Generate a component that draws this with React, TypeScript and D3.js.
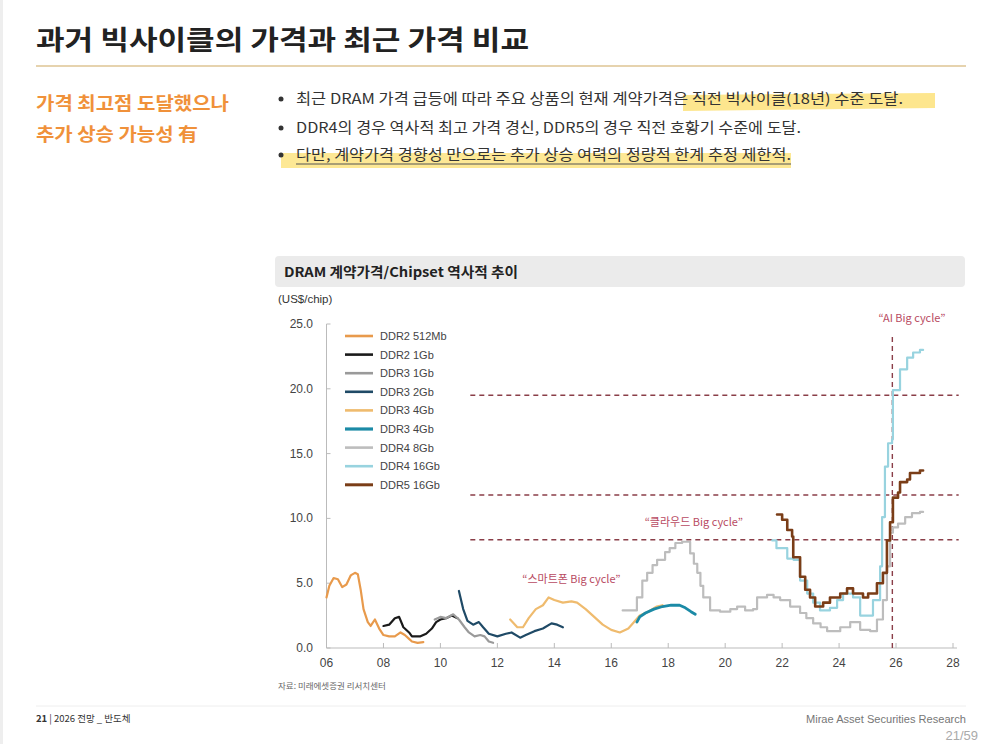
import React from "react";
import * as d3 from "d3";

// ---------- DATA ----------
const yTicks = [0, 5, 10, 15, 20, 25];
const xTicks = [2006, 2008, 2010, 2012, 2014, 2016, 2018, 2020, 2022, 2024, 2026, 2028];
const xTickLabels = ["06", "08", "10", "12", "14", "16", "18", "20", "22", "24", "26", "28"];

const ddr2_512: [number, number][] = [
  [2006.0, 3.9], [2006.1, 4.8], [2006.25, 5.4], [2006.4, 5.3], [2006.55, 4.7], [2006.7, 4.9],
  [2006.85, 5.6], [2007.0, 5.8], [2007.1, 5.7], [2007.2, 4.5], [2007.3, 3.0], [2007.45, 2.0],
  [2007.55, 1.7], [2007.7, 2.2], [2007.85, 1.5], [2008.0, 1.0], [2008.2, 0.9], [2008.4, 0.9],
  [2008.6, 1.2], [2008.75, 1.0], [2008.9, 0.7], [2009.0, 0.5], [2009.2, 0.4], [2009.4, 0.45],
];
const ddr2_1g: [number, number][] = [
  [2008.0, 1.7], [2008.2, 1.8], [2008.4, 2.3], [2008.55, 2.4], [2008.7, 1.6], [2008.9, 1.2],
  [2009.0, 0.9], [2009.3, 0.9], [2009.5, 1.1], [2009.7, 1.5], [2009.85, 2.0], [2010.0, 2.2],
  [2010.2, 2.3], [2010.4, 2.5], [2010.6, 2.3],
];
const ddr3_1g: [number, number][] = [
  [2009.8, 2.2], [2010.0, 2.4], [2010.2, 2.3], [2010.45, 2.6], [2010.65, 2.2], [2010.85, 1.6],
  [2011.0, 1.2], [2011.2, 0.9], [2011.4, 1.0], [2011.55, 0.9], [2011.7, 0.5], [2011.85, 0.4],
];
const ddr3_2g: [number, number][] = [
  [2010.65, 4.4], [2010.8, 3.0], [2010.95, 2.1], [2011.15, 1.8], [2011.35, 2.0], [2011.5, 1.6],
  [2011.7, 1.1], [2012.0, 0.9], [2012.3, 1.1], [2012.5, 1.2], [2012.8, 0.8], [2013.0, 1.0],
  [2013.3, 1.3], [2013.6, 1.5], [2013.9, 1.9], [2014.1, 1.8], [2014.3, 1.6],
];
const ddr3_4g_a: [number, number][] = [
  [2012.45, 2.2], [2012.7, 1.6], [2012.9, 1.6], [2013.1, 2.3], [2013.35, 3.0], [2013.6, 3.3],
  [2013.8, 3.9], [2014.0, 3.7], [2014.3, 3.5], [2014.6, 3.6], [2014.8, 3.5], [2015.1, 3.0],
  [2015.4, 2.4], [2015.7, 1.8], [2016.0, 1.4], [2016.3, 1.2], [2016.6, 1.5], [2016.8, 2.0],
  [2017.0, 2.5], [2017.3, 2.8], [2017.6, 3.2], [2017.8, 3.3],
];
const ddr3_4g_b: [number, number][] = [
  [2016.9, 2.0], [2017.0, 2.4], [2017.2, 2.7], [2017.5, 3.0], [2017.8, 3.2], [2018.1, 3.3],
  [2018.4, 3.3], [2018.6, 3.1], [2018.8, 2.8], [2018.95, 2.6],
];
const ddr4_8g: [number, number][] = [
  [2016.4, 2.9], [2016.9, 3.9], [2017.09, 5.2], [2017.26, 5.8], [2017.45, 6.4], [2017.61, 6.8],
  [2017.89, 7.4], [2018.05, 7.7], [2018.25, 8.1], [2018.49, 8.2], [2018.77, 7.3], [2018.9, 6.5],
  [2019.02, 5.8], [2019.13, 4.8], [2019.23, 3.9], [2019.47, 2.9], [2019.82, 2.8], [2020.18, 3.0],
  [2020.42, 3.2], [2020.7, 2.9], [2020.98, 3.0], [2021.12, 3.9], [2021.47, 4.1], [2021.7, 3.9],
  [2021.93, 3.7], [2022.28, 3.2], [2022.63, 2.7], [2022.85, 2.3], [2023.09, 1.9], [2023.35, 1.6],
  [2023.58, 1.3], [2024.04, 1.6], [2024.39, 2.0], [2024.74, 1.4], [2025.09, 1.3], [2025.33, 2.2],
  [2025.54, 3.7], [2025.68, 6.3], [2025.79, 8.9], [2025.89, 9.3], [2026.07, 9.6], [2026.32, 10.1],
  [2026.56, 10.4], [2026.84, 10.5], [2026.95, 10.5],
];
const ddr4_16g: [number, number][] = [
  [2021.65, 8.3], [2021.8, 7.7], [2022.18, 6.9], [2022.4, 6.8], [2022.63, 5.2], [2022.88, 4.2],
  [2023.09, 3.5], [2023.33, 2.9], [2023.68, 3.1], [2023.93, 3.7], [2024.14, 4.2], [2024.49, 3.9],
  [2024.74, 2.5], [2025.19, 3.7], [2025.44, 6.3], [2025.51, 10.1], [2025.61, 14.0], [2025.72, 15.8],
  [2025.86, 16.1], [2025.89, 19.9], [2026.14, 21.5], [2026.39, 22.4], [2026.6, 22.8],
  [2026.84, 23.0], [2026.95, 23.0],
];
const ddr5_16g: [number, number][] = [
  [2021.82, 10.3], [2022.0, 9.9], [2022.18, 9.1], [2022.35, 8.6], [2022.39, 7.0], [2022.63, 5.5],
  [2022.81, 4.5], [2022.98, 3.9], [2023.16, 3.2], [2023.44, 3.5], [2023.68, 3.9], [2024.04, 4.2],
  [2024.28, 4.6], [2024.49, 4.2], [2024.84, 3.9], [2025.02, 4.2], [2025.33, 5.0], [2025.54, 5.8],
  [2025.68, 8.3], [2025.79, 9.7], [2025.89, 11.6], [2026.07, 12.0], [2026.14, 12.8],
  [2026.39, 13.0], [2026.49, 13.5], [2026.84, 13.7], [2026.95, 13.7],
];

const seriesNames = [
  "DDR2 512Mb", "DDR2 1Gb", "DDR3 1Gb", "DDR3 2Gb", "DDR3 4Gb", "DDR3 4Gb", "DDR4 8Gb", "DDR4 16Gb", "DDR5 16Gb",
];
const seriesData = [ddr2_512, ddr2_1g, ddr3_1g, ddr3_2g, ddr3_4g_a, ddr3_4g_b, ddr4_8g, ddr4_16g, ddr5_16g];
const seriesColors = ["#e89a4c", "#1a1a1a", "#9a9a9a", "#1f4a66", "#efbb6e", "#1b8aa6", "#bdbdbd", "#98d3df", "#7a3d17"];
const seriesStepped = [false, false, false, false, false, false, true, true, true];
const seriesWidths = [2.2, 2.2, 2.2, 2.2, 2.2, 2.8, 2.2, 2.2, 2.6];

const refLevels = [19.5, 11.8, 8.35];
const refStartYear = 2011.05;
const refEndYear = 2028.2;
const aiCycleYear = 2025.87;
const aiCycleTop = 24.0;

const annoTexts = ["“스마트폰 Big cycle”", "“클라우드 Big cycle”", "“AI Big cycle”"];
const annoX = [2014.6, 2018.9, 2026.56];
const annoY = [5.3, 9.75, 25.5];

const bullets = [
  "최근 DRAM 가격 급등에 따라 주요 상품의 현재 계약가격은 직전 빅사이클(18년) 수준 도달.",
  "DDR4의 경우 역사적 최고 가격 경신, DDR5의 경우 직전 호황기 수준에 도달.",
  "다만, 계약가격 경향성 만으로는 추가 상승 여력의 정량적 한계 추정 제한적.",
];
const bulletWidths = [607, 505, 495];

const KR = "'Noto Sans CJK KR', 'Noto Sans', sans-serif";
const NUM = "'Liberation Sans', Arial, sans-serif";

export default function App() {
  const x = d3.scaleLinear().domain([2006, 2028]).range([326.5, 953]);
  const y = d3.scaleLinear().domain([0, 25]).range([648, 324]);

  const lineLinear = d3.line<[number, number]>().x((d) => x(d[0])).y((d) => y(d[1])).curve(d3.curveLinear);
  const lineStep = d3.line<[number, number]>().x((d) => x(d[0])).y((d) => y(d[1])).curve(d3.curveStepAfter);

  const legendX = 345;
  const legendY0 = 336;
  const legendDy = 18.6;
  const bulletY = [104, 133, 160];

  return (
    <svg width={1000} height={744} style={{ position: "absolute", left: 0, top: 0, background: "#fff" }}>
      <rect x={0} y={0} width={1000} height={744} fill="#fff" />
      <rect x={0} y={0} width={3} height={744} fill="#eeeeee" />

      {/* Title */}
      <text x={36} y={50} fontFamily={KR} fontWeight={700} fontSize={27} fill="#222" textLength={493} lengthAdjust="spacingAndGlyphs">
        과거 빅사이클의 가격과 최근 가격 비교
      </text>
      <line x1={36} x2={966} y1={66} y2={66} stroke="#e6d3ae" strokeWidth={2} />

      {/* Left orange subtitle */}
      <text x={36} y={110} fontFamily={KR} fontWeight={700} fontSize={18} fill="#f0913a" textLength={193} lengthAdjust="spacingAndGlyphs">
        가격 최고점 도달했으나
      </text>
      <text x={36} y={141} fontFamily={KR} fontWeight={700} fontSize={18} fill="#f0913a" textLength={162} lengthAdjust="spacingAndGlyphs">
        추가 상승 가능성 有
      </text>

      {/* Highlights */}
      <path d="M683,95 L935,93 L935,108 L683,111 Z" fill="#fde27a" opacity={0.85} />
      <rect x={281} y={153} width={510} height={15} fill="#fde27a" opacity={0.8} />

      {/* Bullets */}
      {bullets.map((b, i) => (
        <g key={i}>
          <circle cx={281} cy={bulletY[i] - 5} r={2.5} fill="#333" />
          <text
            x={296}
            y={bulletY[i]}
            fontFamily={KR}
            fontSize={14.5}
            fill="#333"
            textLength={bulletWidths[i]}
            lengthAdjust="spacingAndGlyphs"
          >
            {b}
          </text>
        </g>
      ))}
      <line x1={296} x2={791} y1={164} y2={164} stroke="#555" strokeWidth={1} />

      {/* Chart header */}
      <rect x={275} y={256} width={690} height={31} rx={4} fill="#ebebeb" />
      <text x={284} y={277} fontFamily={KR} fontWeight={700} fontSize={13.5} fill="#222" textLength={234} lengthAdjust="spacingAndGlyphs">
        DRAM 계약가격/Chipset 역사적 추이
      </text>
      <text x={278} y={303} fontFamily={NUM} fontSize={11.5} fill="#333">
        (US$/chip)
      </text>

      {/* Axes */}
      <line x1={x(2006)} x2={x(2006)} y1={y(25)} y2={y(0)} stroke="#bbb" strokeWidth={1} />
      <line x1={x(2006)} x2={957} y1={y(0)} y2={y(0)} stroke="#bbb" strokeWidth={1} />
      {yTicks.map((t) => (
        <g key={t}>
          <line x1={x(2006)} x2={x(2006) + 4} y1={y(t)} y2={y(t)} stroke="#bbb" />
          <text x={313} y={y(t) + 4} textAnchor="end" fontFamily={NUM} fontSize={12} fill="#444">
            {t.toFixed(1)}
          </text>
        </g>
      ))}
      {xTicks.map((t, i) => (
        <g key={t}>
          <line x1={x(t)} x2={x(t)} y1={y(0)} y2={y(0) - 5} stroke="#bbb" />
          <text x={x(t)} y={667} textAnchor="middle" fontFamily={NUM} fontSize={12} fill="#444">
            {xTickLabels[i]}
          </text>
        </g>
      ))}

      {/* Reference dashed lines */}
      {refLevels.map((v) => (
        <line key={v} x1={x(refStartYear)} x2={x(refEndYear)} y1={y(v)} y2={y(v)} stroke="#8a3e48" strokeWidth={1.4} strokeDasharray="5,4" />
      ))}
      <line x1={x(aiCycleYear)} x2={x(aiCycleYear)} y1={y(aiCycleTop)} y2={y(0)} stroke="#8a3e48" strokeWidth={1.4} strokeDasharray="5,4" />

      {/* Series */}
      {seriesData.map((d, i) => (
        <path
          key={i}
          d={(seriesStepped[i] ? lineStep : lineLinear)(d) || ""}
          fill="none"
          stroke={seriesColors[i]}
          strokeWidth={seriesWidths[i]}
          strokeLinejoin="round"
          strokeLinecap="round"
        />
      ))}

      {/* Annotations */}
      {annoTexts.map((t, i) => (
        <text key={i} x={x(annoX[i])} y={y(annoY[i]) + 4} textAnchor="middle" fontFamily={KR} fontSize={11} fill="#b84a62">
          {t}
        </text>
      ))}

      {/* Legend */}
      {seriesNames.map((n, i) => (
        <g key={i}>
          <line x1={legendX} x2={legendX + 28} y1={legendY0 + i * legendDy} y2={legendY0 + i * legendDy} stroke={seriesColors[i]} strokeWidth={seriesWidths[i] + 0.4} />
          <text x={legendX + 35} y={legendY0 + i * legendDy + 4} fontFamily={NUM} fontSize={11} fill="#444">
            {n}
          </text>
        </g>
      ))}

      {/* Source */}
      <text x={278} y={689} fontFamily={KR} fontSize={8.5} fill="#666">
        자료: 미래에셋증권 리서치센터
      </text>

      {/* Footer */}
      <line x1={36} x2={966} y1={706} y2={706} stroke="#eeeeee" strokeWidth={1} />
      <text x={36} y={722} fontFamily={KR} fontSize={9.5} fill="#333">
        <tspan fontWeight={700}>21</tspan> | 2026 전망 _ 반도체
      </text>
      <text x={966} y={723} textAnchor="end" fontFamily={NUM} fontSize={10} fill="#777" textLength={160} lengthAdjust="spacingAndGlyphs">
        Mirae Asset Securities Research
      </text>
      <text x={978} y={740} textAnchor="end" fontFamily={NUM} fontSize={13} fill="#aaa">
        21/59
      </text>
    </svg>
  );
}
